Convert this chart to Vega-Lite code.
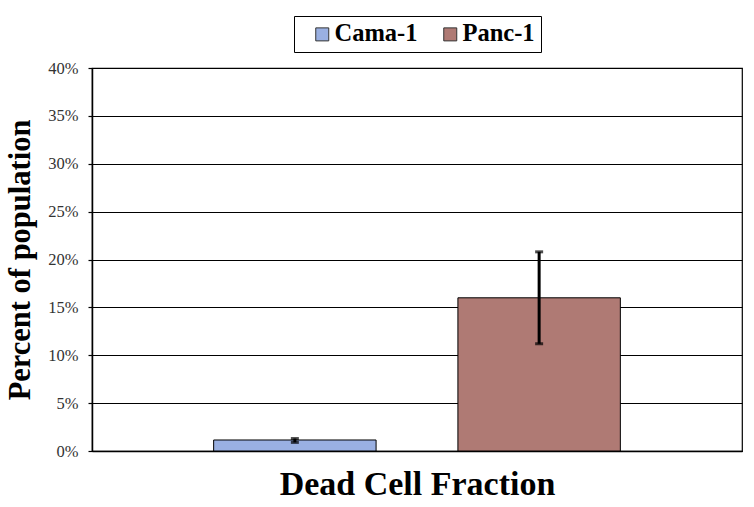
{
  "$schema": "https://vega.github.io/schema/vega-lite/v6.json",
  "autosize": {"type": "none"},
  "width": 650,
  "height": 383,
  "padding": {"left": 92, "top": 68, "right": 12, "bottom": 56},
  "background": "white",
  "config": {
    "font": "Liberation Serif",
    "view": {"stroke": "black", "strokeWidth": 1.2}
  },
  "data": {
    "values": [
      {"category": "Dead Cell Fraction", "series": "Cama-1", "value": 0.0115, "lo": 0.009, "hi": 0.013},
      {"category": "Dead Cell Fraction", "series": "Panc-1", "value": 0.160, "lo": 0.112, "hi": 0.208}
    ]
  },
  "encoding": {
    "x": {
      "field": "series",
      "type": "nominal",
      "scale": {"domain": ["Cama-1", "Panc-1"], "paddingInner": 0.335, "paddingOuter": 0.498},
      "axis": {
        "title": "Dead Cell Fraction",
        "labels": false,
        "ticks": false,
        "domain": true,
        "domainColor": "black",
        "domainWidth": 1.5,
        "titleFont": "Liberation Serif",
        "titleFontSize": 34,
        "titleFontWeight": "bold",
        "titleColor": "black",
        "titlePadding": 16
      }
    }
  },
  "layer": [
    {
      "mark": {"type": "bar", "stroke": "black", "strokeWidth": 1},
      "encoding": {
        "y": {
          "field": "value",
          "type": "quantitative",
          "scale": {"domain": [0, 0.4], "nice": false},
          "axis": {
            "title": "Percent of population",
            "format": ".0%",
            "values": [0, 0.05, 0.1, 0.15, 0.2, 0.25, 0.3, 0.35, 0.4],
            "grid": true,
            "gridColor": "black",
            "gridOpacity": 1,
            "gridWidth": 1,
            "domainColor": "black",
            "domainWidth": 1.5,
            "tickColor": "black",
            "tickSize": 4,
            "tickWidth": 1.2,
            "labelFont": "Liberation Serif",
            "labelFontSize": 16.5,
            "labelColor": "#333333",
            "labelPadding": 10,
            "titleFont": "Liberation Serif",
            "titleFontSize": 30.5,
            "titleFontWeight": "bold",
            "titleColor": "black",
            "titlePadding": 12
          }
        },
        "fill": {
          "field": "series",
          "type": "nominal",
          "scale": {"domain": ["Cama-1", "Panc-1"], "range": ["#9AB0E2", "#AF7A74"]},
          "legend": {
            "title": "\u2002",
            "titleOrient": "left",
            "titleFontSize": 24.5,
            "titlePadding": 10,
            "orient": "none",
            "direction": "horizontal",
            "legendX": 202,
            "legendY": -52,
            "strokeColor": "black",
            "fillColor": "white",
            "padding": 6,
            "symbolType": "square",
            "symbolSize": 169,
            "symbolStrokeColor": "#333333",
            "symbolStrokeWidth": 1,
            "symbolOpacity": 1,
            "labelFont": "Liberation Serif",
            "labelFontSize": 24.5,
            "labelFontWeight": "bold",
            "labelColor": "black",
            "labelOffset": 0,
            "columnPadding": 20
          }
        }
      }
    },
    {
      "mark": {"type": "rule", "color": "black", "strokeWidth": 3},
      "encoding": {
        "y": {"field": "lo", "type": "quantitative"},
        "y2": {"field": "hi"}
      }
    },
    {
      "mark": {"type": "tick", "color": "black", "thickness": 3, "size": 8},
      "encoding": {
        "y": {"field": "lo", "type": "quantitative"}
      }
    },
    {
      "mark": {"type": "tick", "color": "black", "thickness": 3, "size": 8},
      "encoding": {
        "y": {"field": "hi", "type": "quantitative"}
      }
    }
  ]
}
